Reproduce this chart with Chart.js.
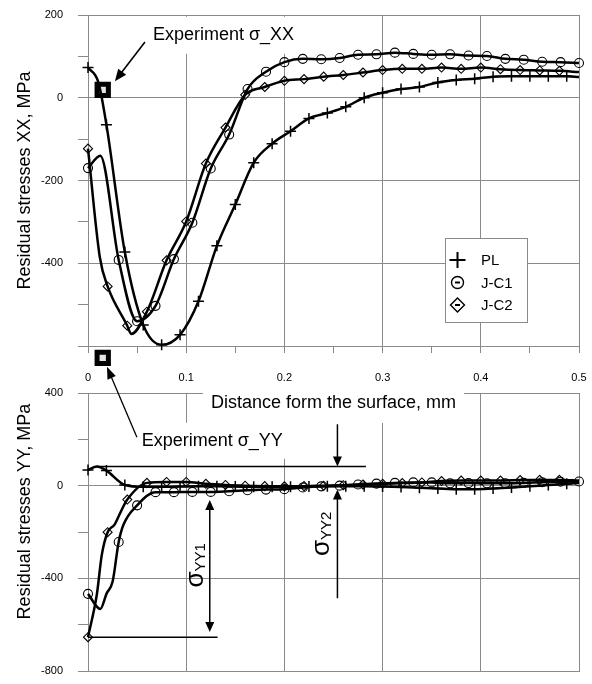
<!DOCTYPE html>
<html>
<head>
<meta charset="utf-8">
<script src="https://cdn.jsdelivr.net/npm/chart.js@4.4.0/dist/chart.umd.min.js"></script>
<style>
  body { margin: 0; background: #fff; }
  #wrap { position: relative; width: 592px; height: 684px; }
  canvas { position: absolute; left: 0; }
  #xx { top: 0; }
  #yy { top: 340px; }
</style>
</head>
<body>
<div id="wrap">
  <canvas id="xx" width="592" height="400"></canvas>
  <canvas id="yy" width="592" height="344"></canvas>
</div>
<script>
const seriesNames = ['PL', 'J-C1', 'J-C2'];

// residual stress XX (MPa) vs distance from the surface (mm)
const plX_xx = [0, 0.0105, 0.01875, 0.0375, 0.05625, 0.075, 0.09375, 0.1125, 0.13125, 0.15, 0.16875, 0.1875, 0.20625, 0.225, 0.24375, 0.2625, 0.28125, 0.3, 0.31875, 0.3375, 0.35625, 0.375, 0.39375, 0.4125, 0.43125, 0.45, 0.46875, 0.4875, 0.5];
const plY_xx = [73, 38, -65, -373, -549, -597, -573, -492, -358, -258, -157, -111, -81, -50, -37, -22, 0, 12, 21, 26, 37, 43, 46, 51, 52, 52, 52, 52, 50];
const c1X_xx = [0, 0.0125, 0.03125, 0.05, 0.06875, 0.0875, 0.10625, 0.125, 0.14375, 0.1625, 0.18125, 0.2, 0.21875, 0.2375, 0.25625, 0.275, 0.29375, 0.3125, 0.33125, 0.35, 0.36875, 0.3875, 0.40625, 0.425, 0.44375, 0.4625, 0.48125, 0.5];
const c1Y_xx = [-170, -140, -392, -540, -503, -390, -302, -171, -89, 21, 63, 86, 94, 93, 96, 104, 105, 109, 106, 104, 105, 102, 101, 94, 92, 87, 86, 84];
const c2X_xx = [0, 0.012, 0.02, 0.04, 0.044, 0.06, 0.08, 0.1, 0.12, 0.14, 0.16, 0.18, 0.2, 0.22, 0.24, 0.26, 0.28, 0.3, 0.32, 0.34, 0.36, 0.38, 0.4, 0.42, 0.44, 0.46, 0.48, 0.5];
const c2Y_xx = [-123, -385, -456, -551, -571, -517, -393, -299, -159, -72, 7, 26, 41, 45, 51, 55, 61, 67, 70, 70, 73, 70, 73, 69, 67, 66, 65, 62];

// residual stress YY (MPa)
const plX_yy = [0, 0.009, 0.01875, 0.0375, 0.05625, 0.075, 0.09375, 0.1125, 0.13125, 0.15, 0.16875, 0.1875, 0.20625, 0.225, 0.24375, 0.2625, 0.28125, 0.3, 0.31875, 0.3375, 0.35625, 0.375, 0.39375, 0.4125, 0.43125, 0.45, 0.46875, 0.4875, 0.5];
const plY_yy = [68, 83, 65, 3, -5, -5, -4, -3, -3, -4, -5, -5, -5, -4, -3, -3, -3, -4, -6, -9, -12, -15, -15, -12, -8, -3, 3, 8, 12];
const c1X_yy = [0, 0.0125, 0.019, 0.025, 0.03125, 0.036, 0.05, 0.06875, 0.0875, 0.10625, 0.125, 0.14375, 0.1625, 0.18125, 0.2, 0.21875, 0.2375, 0.25625, 0.275, 0.29375, 0.3125, 0.33125, 0.35, 0.36875, 0.3875, 0.40625, 0.425, 0.44375, 0.4625, 0.48125, 0.5];
const c1Y_yy = [-467, -532, -465, -415, -243, -170, -85, -28, -28, -27, -27, -24, -20, -17, -15, -8, -3, 0, 5, 9, 12, 14, 14, 10, 11, 10, 10, 12, 15, 17, 18];
const c2X_yy = [0, 0.009, 0.014, 0.02, 0.027, 0.034, 0.04, 0.06, 0.08, 0.1, 0.12, 0.14, 0.16, 0.18, 0.2, 0.22, 0.24, 0.26, 0.28, 0.3, 0.32, 0.34, 0.36, 0.38, 0.4, 0.42, 0.44, 0.46, 0.48, 0.5];
const c2Y_yy = [-654, -470, -300, -201, -168, -107, -60, 12, 16, 16, 8, 3, 0, -2, -3, -2, 0, 2, 5, 8, 11, 14, 20, 22, 22, 22, 24, 25, 25, 22];

// experiment marks
const expX = [0.015];
const expXX = [19];
const expYY = [552];

const FAMILY = '"Liberation Sans", Arial, Helvetica, sans-serif';
const GRID = '#8a8a8a';
const CLEAR = 'rgba(0,0,0,0)';
Chart.defaults.font.family = FAMILY;
Chart.defaults.font.size = 11;
Chart.defaults.color = '#000';

function isStep(v, step) {
  const r = v / step;
  return Math.abs(r - Math.round(r)) < 1e-6;
}

function pts(xs, ys) {
  return xs.map((x, i) => ({ x: x, y: ys[i] }));
}

function curve(label, xs, ys, style, radius, plain) {
  return {
    label: label,
    data: pts(xs, ys),
    showLine: true,
    borderColor: '#000',
    borderWidth: 2.5,
    cubicInterpolationMode: 'monotone',
    pointStyle: style,
    pointRadius: c => (plain.indexOf(c.dataIndex) >= 0 ? 0 : radius),
    pointHoverRadius: 0,
    pointBorderColor: '#000',
    pointBorderWidth: style === 'cross' ? 1.5 : 1.1,
    pointBackgroundColor: CLEAR,
    clip: false
  };
}

function square(label, xs, ys) {
  return {
    label: label,
    data: pts(xs, ys),
    showLine: false,
    pointStyle: 'rect',
    pointRadius: 8,
    pointHoverRadius: 8,
    pointBorderWidth: 5,
    pointBorderColor: '#000',
    pointBackgroundColor: '#e4e4e4',
    clip: false
  };
}

// points lying outside the plot box are skipped by Chart.js, so redraw them
function drawOutside(chart, index) {
  const everywhere = { left: -1e4, right: 1e4, top: -1e4, bottom: 1e4 };
  chart.getDatasetMeta(index).data.forEach(p => p.draw(chart.ctx, everywhere));
}

function arrow(ctx, x1, y1, x2, y2, len, half) {
  const a = Math.atan2(y2 - y1, x2 - x1), c = Math.cos(a), s = Math.sin(a);
  ctx.beginPath();
  ctx.moveTo(x1, y1);
  ctx.lineTo(x2 - c * len * 0.7, y2 - s * len * 0.7);
  ctx.stroke();
  ctx.beginPath();
  ctx.moveTo(x2, y2);
  ctx.lineTo(x2 - c * len - s * half, y2 - s * len + c * half);
  ctx.lineTo(x2 - c * len + s * half, y2 - s * len - c * half);
  ctx.closePath();
  ctx.fill();
}

function sigmaLabel(ctx, x, y, sub) {
  ctx.save();
  ctx.translate(x, y);
  ctx.rotate(-Math.PI / 2);
  ctx.textAlign = 'left';
  ctx.textBaseline = 'alphabetic';
  ctx.font = '26px ' + FAMILY;
  const w1 = ctx.measureText('σ').width;
  ctx.font = '15px ' + FAMILY;
  const w2 = ctx.measureText(sub).width;
  const x0 = -(w1 + w2) / 2;
  ctx.font = '26px ' + FAMILY;
  ctx.fillText('σ', x0, 7);
  ctx.font = '15px ' + FAMILY;
  ctx.fillText(sub, x0 + w1, 9);
  ctx.restore();
}

function legendMark(ctx, style, x, y) {
  ctx.beginPath();
  if (style === 'cross') {
    ctx.lineWidth = 2;
    ctx.moveTo(x - 8, y); ctx.lineTo(x + 8, y);
    ctx.moveTo(x, y - 8); ctx.lineTo(x, y + 8);
    ctx.stroke();
    return;
  }
  ctx.lineWidth = 1.4;
  if (style === 'circle') {
    ctx.arc(x, y, 6, 0, Math.PI * 2);
  } else {
    ctx.moveTo(x, y - 7); ctx.lineTo(x + 7, y); ctx.lineTo(x, y + 7); ctx.lineTo(x - 7, y);
    ctx.closePath();
  }
  ctx.stroke();
  ctx.beginPath();
  ctx.lineWidth = 2;
  ctx.moveTo(x - 2.5, y); ctx.lineTo(x + 2.5, y);
  ctx.stroke();
}

function whiteBox(ctx, cx, cy, text, font, padL, padR, up, down) {
  ctx.font = font;
  const w = ctx.measureText(text).width;
  ctx.fillStyle = '#fff';
  ctx.fillRect(cx - w / 2 - padL, cy - up, w + padL + padR, up + down);
}

const xxNotes = {
  id: 'xxNotes',
  beforeDatasetsDraw(chart) {
    const { ctx, scales: { x, y } } = chart;
    ctx.save();
    whiteBox(ctx, x.getPixelForValue(0.138), y.getPixelForValue(152), 'Experiment σ_XX', '18px ' + FAMILY, 8, 4, 18, 19);
    ctx.restore();
  },
  afterDatasetsDraw(chart) {
    const { ctx, scales: { x, y }, chartArea: a } = chart;
    ctx.save();
    ctx.fillStyle = '#000';
    ctx.strokeStyle = '#000';
    ctx.font = '18px ' + FAMILY;
    ctx.textAlign = 'center';
    ctx.textBaseline = 'middle';
    ctx.fillText('Experiment σ_XX', x.getPixelForValue(0.138), y.getPixelForValue(152));
    ctx.lineWidth = 1.6;
    arrow(ctx, x.getPixelForValue(0.058), y.getPixelForValue(135),
      x.getPixelForValue(0.0274), y.getPixelForValue(40), 12, 5);

    // legend
    const left = a.right - 134, top = a.top + 223;
    ctx.fillStyle = '#fff';
    ctx.fillRect(left, top, 82, 84);
    ctx.lineWidth = 1;
    ctx.strokeStyle = GRID;
    ctx.strokeRect(left + 0.5, top + 0.5, 82, 84);
    ctx.strokeStyle = '#000';
    ctx.fillStyle = '#000';
    ctx.font = '15px ' + FAMILY;
    ctx.textAlign = 'left';
    chart.data.datasets.slice(0, 3).forEach((ds, i) => {
      const cy = top + 22 + i * 22.5;
      legendMark(ctx, ds.pointStyle, left + 12.5, cy);
      ctx.fillText(ds.label, left + 36, cy + 1);
    });
    ctx.restore();
  }
};

const yyNotes = {
  id: 'yyNotes',
  beforeDatasetsDraw(chart) {
    const { ctx, scales: { x, y }, chartArea: a } = chart;
    ctx.save();
    whiteBox(ctx, x.getPixelForValue(0.25), a.top + 10, 'Distance form the surface, mm', '18px ' + FAMILY, 8, 8, 17, 20);
    whiteBox(ctx, x.getPixelForValue(0.1265), y.getPixelForValue(194), 'Experiment σ_YY', '18px ' + FAMILY, 5, 7, 18, 18);
    ctx.restore();
  },
  afterDatasetsDraw(chart) {
    const { ctx, scales: { x, y }, chartArea: a } = chart;
    ctx.save();
    drawOutside(chart, 3);
    ctx.fillStyle = '#000';
    ctx.strokeStyle = '#000';

    // y axis title
    ctx.save();
    ctx.translate(25, a.top + 118.5);
    ctx.rotate(-Math.PI / 2);
    ctx.font = '18px ' + FAMILY;
    ctx.textAlign = 'center';
    ctx.textBaseline = 'middle';
    ctx.fillText('Residual stresses YY, MPa', 0, 0);
    ctx.restore();

    ctx.font = '18px ' + FAMILY;
    ctx.textAlign = 'center';
    ctx.textBaseline = 'middle';
    ctx.fillText('Distance form the surface, mm', x.getPixelForValue(0.25), a.top + 10);
    ctx.fillText('Experiment σ_YY', x.getPixelForValue(0.1265), y.getPixelForValue(194));

    ctx.lineWidth = 1.3;
    arrow(ctx, x.getPixelForValue(0.0498), y.getPixelForValue(209),
      x.getPixelForValue(0.0193), y.getPixelForValue(513), 12, 4.5);

    // reference levels: PL peak and J-C2 surface value
    const peak = Math.max(...plY_yy);
    const peakX = plX_yy[plY_yy.indexOf(peak)];
    const low = c2Y_yy[0];
    ctx.lineWidth = 1.6;
    ctx.beginPath();
    ctx.moveTo(x.getPixelForValue(peakX), y.getPixelForValue(peak));
    ctx.lineTo(x.getPixelForValue(0.283), y.getPixelForValue(peak));
    ctx.moveTo(x.getPixelForValue(c2X_yy[0]), y.getPixelForValue(low));
    ctx.lineTo(x.getPixelForValue(0.132), y.getPixelForValue(low));
    ctx.stroke();

    // sigma_YY1 double arrow
    const x1 = x.getPixelForValue(0.124);
    ctx.lineWidth = 1.5;
    arrow(ctx, x1, y.getPixelForValue(-300), x1, y.getPixelForValue(-62), 10, 4.5);
    arrow(ctx, x1, y.getPixelForValue(-300), x1, y.getPixelForValue(low + 22), 10, 4.5);
    sigmaLabel(ctx, x.getPixelForValue(0.11), y.getPixelForValue(-344), 'YY1');

    // sigma_YY2 arrows
    const x2 = x.getPixelForValue(0.254);
    arrow(ctx, x2, y.getPixelForValue(265), x2, y.getPixelForValue(peak), 10, 4.5);
    arrow(ctx, x2, y.getPixelForValue(-486), x2, y.getPixelForValue(-17), 10, 4.5);
    sigmaLabel(ctx, x.getPixelForValue(0.238), y.getPixelForValue(-208), 'YY2');
    ctx.restore();
  }
};

new Chart(document.getElementById('xx'), {
  type: 'scatter',
  data: {
    datasets: [
      curve(seriesNames[0], plX_xx, plY_xx, 'cross', 5.5, [1, 28]),
      curve(seriesNames[1], c1X_xx, c1Y_xx, 'circle', 4.5, [1]),
      curve(seriesNames[2], c2X_xx, c2Y_xx, 'rectRot', 4.5, [1, 4, 27]),
      square('Experiment σ_XX', expX, expXX)
    ]
  },
  options: {
    responsive: false,
    animation: false,
    layout: { padding: { top: 15, right: 12, left: 0, bottom: 0 } },
    plugins: { legend: { display: false }, tooltip: { enabled: false } },
    scales: {
      x: {
        type: 'linear', min: 0, max: 0.5,
        ticks: {
          stepSize: 0.05, autoSkip: false, maxRotation: 0, padding: 18,
          callback: v => (isStep(v, 0.1) ? String(Math.round(v * 10) / 10) : '')
        },
        grid: { color: c => (c.tick && isStep(c.tick.value, 0.1) ? GRID : CLEAR), tickColor: GRID, tickLength: 7 },
        border: { color: GRID },
        afterFit: s => { s.height = 54; s.paddingLeft = 0; s.paddingRight = 0; }
      },
      y: {
        min: -600, max: 200,
        ticks: {
          stepSize: 100, padding: 15,
          callback: v => (isStep(v, 200) && v > -600 ? String(v) : '')
        },
        grid: { color: c => (c.tick && isStep(c.tick.value, 200) ? GRID : CLEAR), tickColor: GRID, tickLength: 10 },
        border: { color: GRID },
        title: { display: true, text: 'Residual stresses XX, MPa', font: { size: 18 }, padding: { top: 14, bottom: 0 } },
        afterFit: s => { s.width = 88; s.paddingTop = 0; s.paddingBottom = 0; }
      }
    }
  },
  plugins: [xxNotes]
});

new Chart(document.getElementById('yy'), {
  type: 'scatter',
  data: {
    datasets: [
      curve(seriesNames[0], plX_yy, plY_yy, 'cross', 5.5, [1, 28]),
      curve(seriesNames[1], c1X_yy, c1Y_yy, 'circle', 4.5, [1, 2, 3, 5]),
      curve(seriesNames[2], c2X_yy, c2Y_yy, 'rectRot', 4.5, [1, 2, 4, 5, 29]),
      square('Experiment σ_YY', expX, expYY)
    ]
  },
  options: {
    responsive: false,
    animation: false,
    layout: { padding: { top: 53, right: 12, left: 0, bottom: 7 } },
    plugins: { legend: { display: false }, tooltip: { enabled: false } },
    scales: {
      x: {
        type: 'linear', min: 0, max: 0.5,
        ticks: { display: false, stepSize: 0.1 },
        grid: { color: GRID, drawTicks: false },
        border: { color: GRID },
        afterFit: s => { s.height = 0; s.paddingLeft = 0; s.paddingRight = 0; }
      },
      y: {
        min: -800, max: 400,
        ticks: {
          stepSize: 200, padding: 15,
          callback: v => (isStep(v, 400) ? String(v) : '')
        },
        grid: { color: c => (c.tick && isStep(c.tick.value, 400) ? GRID : CLEAR), tickColor: GRID, tickLength: 10 },
        border: { color: GRID },
        afterFit: s => { s.width = 88; s.paddingTop = 0; s.paddingBottom = 0; }
      }
    }
  },
  plugins: [yyNotes]
});
</script>
</body>
</html>
